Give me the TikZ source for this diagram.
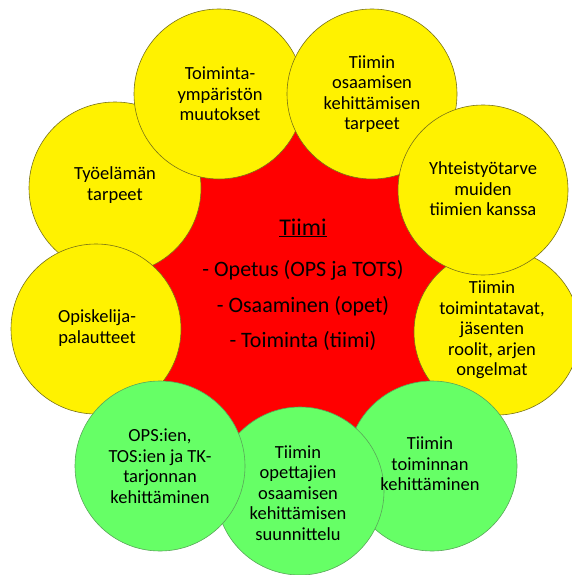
\documentclass[tikz,border=0pt]{standalone}
\usepackage{fontspec}
\setmainfont{Carlito}
\begin{document}
\begin{tikzpicture}[x=1pt,y=-1pt,
  bubble/.style={circle,inner sep=0pt,minimum size=#1},
  yellowbub/.style={bubble=#1,fill=yellow,draw=olive!80!black,line width=0.6pt},
  greenbub/.style={bubble=#1,fill=green!60!white,draw=green!30!gray,line width=0.6pt},
  label/.style={align=center,inner sep=0pt,font=\fontsize{18.5}{20.5}\selectfont},
  core/.style={anchor=base,inner sep=0pt,font=\fontsize{22}{26}\selectfont}]
\useasboundingbox (0,0) rectangle (571,575);
\fill[white] (0,0) rectangle (571,575);
% bubble centres, clockwise from the top left
\coordinate (p1) at (219,94);
\coordinate (p2) at (372,94);
\coordinate (p3) at (483,190);
\coordinate (p4) at (497,332);
\coordinate (p5) at (432,466);
\coordinate (p6) at (300,491);
\coordinate (p7) at (160,466);
\coordinate (p8) at (96,329);
\coordinate (p9) at (115,188);
% red core behind the ring of bubbles
\fill[red] (p1) -- (p2) -- (p3) -- (p4) -- (p5) -- (p6) -- (p7) -- (p8) -- (p9) -- cycle;
% bubbles, back to front
\node[yellowbub=172] (b9) at (p9) {};
\node[yellowbub=170] (b8) at (p8) {};
\node[yellowbub=170] (b1) at (p1) {};
\node[yellowbub=170] (b2) at (p2) {};
\node[yellowbub=166] (b4) at (p4) {};
\node[yellowbub=170] (b3) at (p3) {};
\node[greenbub=170] (b5) at (p5) {};
\node[greenbub=168] (b6) at (p6) {};
\node[greenbub=170] (b7) at (p7) {};
% bubble texts
\node[label] (t1) at (220,94) {Toiminta-\\ympäristön\\muutokset};
\node[label] (t2) at (372,94) {Tiimin\\osaamisen\\kehittämisen\\tarpeet};
\node[label] (t3) at (483,189) {Yhteistyötarve\\muiden\\tiimien kanssa};
\node[label] (t4) at (492,330) {Tiimin\\toimintatavat,\\jäsenten\\roolit, arjen\\ongelmat};
\node[label] (t5) at (430,464) {Tiimin\\toiminnan\\kehittäminen};
\node[label] (t6) at (298,493) {Tiimin\\opettajien\\osaamisen\\kehittämisen\\suunnittelu};
\node[label] (t7) at (160,466) {OPS:ien,\\TOS:ien ja TK-\\tarjonnan\\kehittäminen};
\node[label] (t8) at (97,328) {Opiskelija-\\palautteet};
\node[label] (t9) at (115,185) {Työelämän\\tarpeet};
% core texts
\node[core,font=\fontsize{24}{28}\selectfont] (c0) at (303,235) {\underline{Tiimi}};
\node[core] (c1) at (303,276) {- Opetus (OPS ja TOTS)};
\node[core] (c2) at (303,312) {- Osaaminen (opet)};
\node[core] (c3) at (303,347) {- Toiminta (tiimi)};
\end{tikzpicture}
\end{document}
